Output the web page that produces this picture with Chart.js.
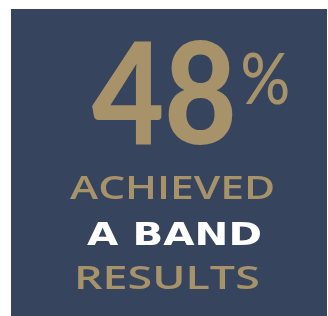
<!DOCTYPE html>
<html>
<head>
<script src="https://cdn.jsdelivr.net/npm/chart.js@4.4.1/dist/chart.umd.min.js"></script>
<style>
  body { margin: 0; background: #fff; }
  #wrap { width: 328px; height: 316px; }
</style>
</head>
<body>

<div id="wrap"><canvas id="statCanvas"></canvas></div>

<script>
// values shown on the card
var shareValue = [48];
var shareUnit = ["%"];
var captionLines = ["ACHIEVED", "A BAND", "RESULTS"];

var navy = "#36455d";
var gold = "#a8926a";

// draw text so its ink fills the given box (left, top, right, baseline)
function fitText(ctx, text, font, color, box)
{
	ctx.font = font;
	var m = ctx.measureText(text);
	var inkW = m.actualBoundingBoxLeft + m.actualBoundingBoxRight;
	var inkH = m.actualBoundingBoxAscent;
	var sx = (box[2] - box[0]) / inkW;
	var sy = (box[3] - box[1]) / inkH;
	ctx.save();
	ctx.fillStyle = color;
	ctx.textBaseline = "alphabetic";
	ctx.textAlign = "left";
	ctx.translate(box[0] + m.actualBoundingBoxLeft * sx, box[3]);
	ctx.scale(sx, sy);
	ctx.fillText(text, 0, 0);
	ctx.restore();
}

var statCard = {
	id: "statCard",
	beforeDraw: function(chart) {
		var ctx = chart.ctx;
		ctx.save();
		ctx.fillStyle = "#fff";
		ctx.fillRect(0, 0, chart.width, chart.height);
		ctx.fillStyle = navy;
		ctx.fillRect(11, 9, chart.width - 12, chart.height - 9);
		ctx.restore();

		var ds = chart.data.datasets[0];
		fitText(ctx, String(ds.data[0]), "900 100px Lato", gold, [92, 41, 233, 144]);
		fitText(ctx, shareUnit[0], "500 100px Lato", gold, [243, 51, 288, 104]);

		var lines = chart.data.labels;
		fitText(ctx, lines[0], "600 100px 'Open Sans'", gold, [70, 176, 273, 199]);
		fitText(ctx, lines[1], "bold 100px 'DejaVu Sans'", "#fff", [87, 222, 260, 245]);
		fitText(ctx, lines[2], "600 100px 'Open Sans'", gold, [78, 266, 258, 289]);
	}
};

new Chart("statCanvas", {
	type: "bar",
	data: {
		labels: captionLines,
		datasets: [{ data: shareValue, backgroundColor: "rgba(0,0,0,0)" }]
	},
	options: {
		responsive: true,
		maintainAspectRatio: false,
		animation: false,
		events: [],
		plugins: { legend: { display: false }, tooltip: { enabled: false } },
		scales: { x: { display: false }, y: { display: false } }
	},
	plugins: [statCard]
});
</script>

</body>
</html>
